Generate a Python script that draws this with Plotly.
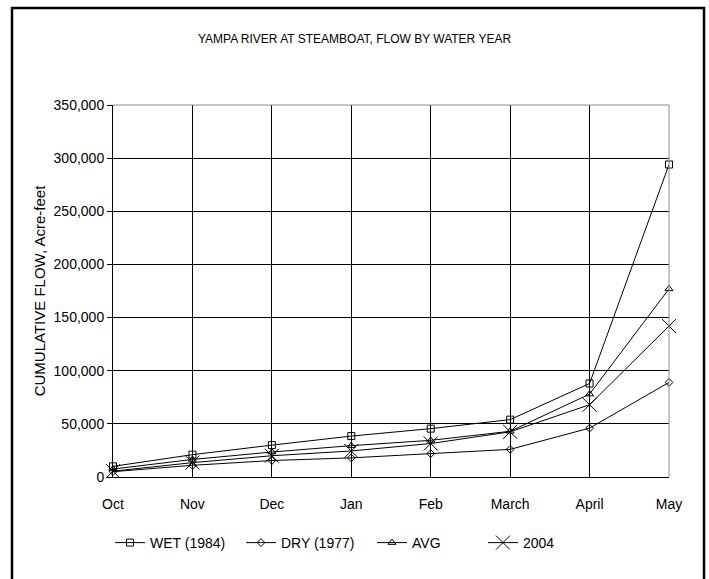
import plotly.graph_objects as go

# Cumulative flow by month of the water year (acre-feet)
months = ["Oct", "Nov", "Dec", "Jan", "Feb", "March", "April", "May"]
wet_1984 = [10000, 21000, 30000, 38500, 45500, 54000, 88000, 294000]
dry_1977 = [5000, 11000, 15500, 18000, 22000, 26000, 46000, 89000]
avg_flow = [7500, 16500, 23500, 29500, 34500, 43000, 78000, 177000]
year_2004 = [5500, 13500, 20000, 24500, 31500, 42500, 68000, 142000]

y_ticks = [0, 50000, 100000, 150000, 200000, 250000, 300000, 350000]

FONT = "Liberation Sans, Arial, sans-serif"

series = [
    ("WET (1984)", wet_1984, "square-open", 7, 86),
    ("DRY (1977)", dry_1977, "diamond-open", 6, 86),
    ("AVG", avg_flow, "triangle-up-open", 7, 66),
    ("2004", year_2004, "x-thin-open", 14, 86),
]

fig = go.Figure()
for name, vals, sym, size, lw in series:
    fig.add_trace(go.Scatter(
        x=months, y=vals, name=name, mode="lines+markers",
        line=dict(color="black", width=1),
        marker=dict(symbol=sym, size=size, color="black",
                    line=dict(color="black", width=1)),
        legendwidth=lw,
        cliponaxis=False,
    ))

W, H = 709, 579
ml, mr, mt, mb = 113, 40, 105, 102
pw, ph = W - ml - mr, H - mt - mb

def px_x(x):
    return (x - ml) / pw

def px_y(y):
    return (H - mb - y) / ph

fig.update_layout(
    width=W, height=H,
    margin=dict(l=ml, r=mr, t=mt, b=mb),
    paper_bgcolor="white", plot_bgcolor="white",
    font=dict(family=FONT, size=14, color="black"),
    title=dict(text="YAMPA RIVER AT STEAMBOAT, FLOW BY WATER YEAR",
               x=0.5, xanchor="center", y=1 - 39 / H, yanchor="middle",
               font=dict(family=FONT, size=12, color="black")),
    showlegend=True,
    legend=dict(orientation="h", x=px_x(110), xanchor="left",
                y=px_y(543), yanchor="middle",
                font=dict(family=FONT, size=14, color="black"),
                bgcolor="rgba(0,0,0,0)", itemwidth=30,
                entrywidth=86, entrywidthmode="pixels"),
    xaxis=dict(
        type="category", range=[0, 7],
        showgrid=True, gridcolor="black", gridwidth=1,
        showline=True, linecolor="black", linewidth=1,
        ticks="", tickfont=dict(family=FONT, size=14),
        ticklabelstandoff=14,
        zeroline=False, fixedrange=True,
    ),
    yaxis=dict(
        range=[0, 350000], tickvals=y_ticks, tickformat=",d",
        showgrid=True, gridcolor="black", gridwidth=1,
        showline=True, linecolor="black", linewidth=1,
        ticks="outside", ticklen=5, tickcolor="black",
        tickfont=dict(family=FONT, size=14),
        zeroline=False,
        title=dict(text="CUMULATIVE FLOW, Acre-feet",
                   font=dict(family=FONT, size=15), standoff=4),
    ),
)

# Grey border along the top and right of the plot area
fig.add_shape(type="line", xref="paper", yref="paper", x0=0, x1=1, y0=1, y1=1,
              line=dict(color="#8c8c8c", width=1))
fig.add_shape(type="line", xref="paper", yref="paper", x0=1, x1=1, y0=0, y1=1,
              line=dict(color="#8c8c8c", width=1))

# Outer chart frame
fig.add_shape(type="rect", xref="paper", yref="paper",
              x0=px_x(12), x1=px_x(704), y0=px_y(600), y1=px_y(8),
              line=dict(color="black", width=2.5), fillcolor="rgba(0,0,0,0)",
              layer="above")

fig.write_html("out.html")
